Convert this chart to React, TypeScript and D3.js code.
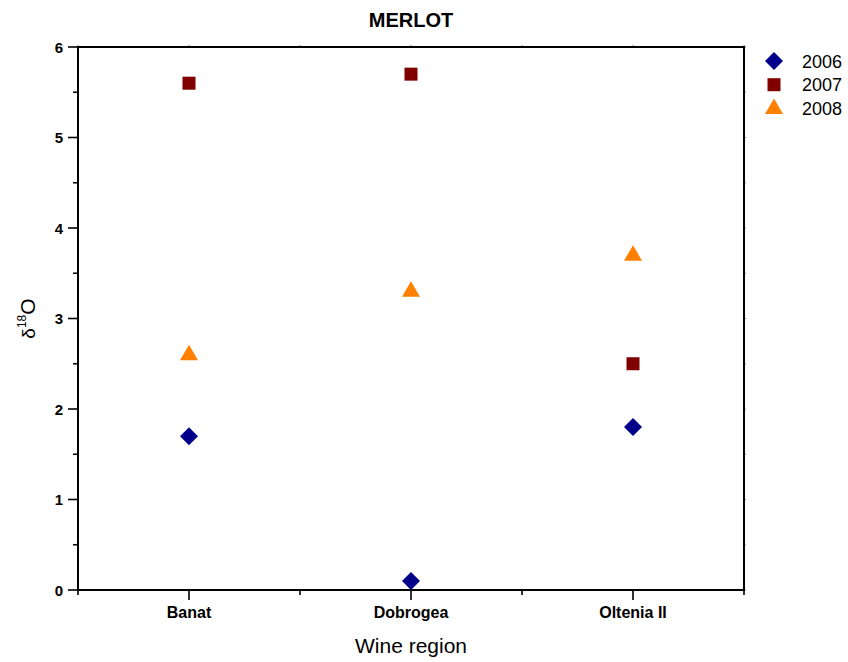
import React from "react";
import * as d3 from "d3";

const regions = ["Banat", "Dobrogea", "Oltenia II"];
const years = ["2006", "2007", "2008"];
const values2006 = [1.7, 0.1, 1.8];
const values2007 = [5.6, 5.7, 2.5];
const values2008 = [2.6, 3.3, 3.7];
const yTicks = [0, 1, 2, 3, 4, 5, 6];
const yMinorTicks = [0.5, 1.5, 2.5, 3.5, 4.5, 5.5];

const seriesColors = ["#00008b", "#800000", "#ff8000"];
const seriesShapes = ["diamond", "square", "triangle"];

const W = 848;
const H = 662;
const margin = { left: 78, right: 104, top: 47, bottom: 72 };
const FONT = "'Liberation Sans', Arial, Helvetica, sans-serif";

function markerPath(shape: string): string {
  if (shape === "diamond") {
    return "M0,-9L9,0L0,9L-9,0Z";
  }
  if (shape === "square") {
    return "M-6.5,-6.5H6.5V6.5H-6.5Z";
  }
  // triangle centred on its centroid
  return "M0,-10L9,5.5L-9,5.5Z";
}

export default function App() {
  const x = d3
    .scaleBand<string>()
    .domain(regions)
    .range([margin.left, W - margin.right])
    .padding(0);
  const y = d3
    .scaleLinear()
    .domain([0, 6])
    .range([H - margin.bottom, margin.top]);

  const x0 = margin.left;
  const x1 = W - margin.right;
  const y0 = H - margin.bottom;
  const y1 = margin.top;

  const series = [values2006, values2007, values2008];
  const bandEdges = regions.map((r) => x(r) as number).concat([x1]);
  const centers = regions.map((r) => (x(r) as number) + x.bandwidth() / 2);

  return (
    <svg
      width={W}
      height={H}
      style={{ position: "absolute", left: 0, top: 0, background: "#fff" }}
      fontFamily={FONT}
    >
      <rect x={0} y={0} width={W} height={H} fill="#fff" />
      {/* title */}
      <text
        x={(x0 + x1) / 2}
        y={27}
        textAnchor="middle"
        fontSize={20}
        fontWeight="bold"
      >
        MERLOT
      </text>

      {/* left axis ticks and labels */}
      {yTicks.map((t) => (
        <g key={"yt" + t}>
          <line x1={x0 - 10} x2={x0} y1={y(t)} y2={y(t)} stroke="#000" strokeWidth={1.6} />
          <line x1={x1} x2={x1 + 1.5} y1={y(t)} y2={y(t)} stroke="#000" strokeWidth={1} />
          <text
            x={x0 - 15}
            y={y(t) + 5.5}
            textAnchor="end"
            fontSize={15}
            fontWeight="bold"
          >
            {t}
          </text>
        </g>
      ))}
      {yMinorTicks.map((t) => (
        <g key={"ym" + t}>
          <line x1={x0 - 5} x2={x0} y1={y(t)} y2={y(t)} stroke="#000" strokeWidth={1.6} />
          <line x1={x1} x2={x1 + 1.5} y1={y(t)} y2={y(t)} stroke="#000" strokeWidth={1} />
        </g>
      ))}

      {/* bottom axis: category ticks, band boundary ticks */}
      {centers.map((c, i) => (
        <g key={"xc" + i}>
          <line x1={c} x2={c} y1={y0} y2={y0 + 10} stroke="#000" strokeWidth={1.6} />
          <line x1={c} x2={c} y1={y1} y2={y1 - 1.5} stroke="#000" strokeWidth={1} />
          <text
            x={c}
            y={y0 + 28}
            textAnchor="middle"
            fontSize={16}
            fontWeight="bold"
          >
            {regions[i]}
          </text>
        </g>
      ))}
      {bandEdges.map((e, i) => (
        <g key={"xe" + i}>
          <line x1={e} x2={e} y1={y0} y2={y0 + 5} stroke="#000" strokeWidth={1.6} />
          <line x1={e} x2={e} y1={y1} y2={y1 - 1.5} stroke="#000" strokeWidth={1} />
        </g>
      ))}

      {/* frame */}
      <rect
        x={x0}
        y={y1}
        width={x1 - x0}
        height={y0 - y1}
        fill="none"
        stroke="#000"
        strokeWidth={2}
      />

      {/* axis titles */}
      <text x={(x0 + x1) / 2} y={653} textAnchor="middle" fontSize={21}>
        Wine region
      </text>
      <text
        transform={`translate(35,${(y0 + y1) / 2}) rotate(-90)`}
        textAnchor="middle"
        fontSize={21}
      >
        <tspan fontSize={19}>δ</tspan>
        <tspan fontSize={12} dy={-9}>
          18
        </tspan>
        <tspan dy={9}>O</tspan>
      </text>

      {/* data markers */}
      {series.map((vals, si) =>
        vals.map((v, ci) => (
          <path
            key={`m${si}-${ci}`}
            d={markerPath(seriesShapes[si])}
            transform={`translate(${centers[ci]},${y(v)})`}
            fill={seriesColors[si]}
          />
        ))
      )}

      {/* legend */}
      {years.map((yr, i) => (
        <g key={"lg" + yr} transform={`translate(774,${61 + i * 23.7})`}>
          <path d={markerPath(seriesShapes[i])} fill={seriesColors[i]} />
          <text x={28} y={6.5} fontSize={18}>
            {yr}
          </text>
        </g>
      ))}
    </svg>
  );
}
